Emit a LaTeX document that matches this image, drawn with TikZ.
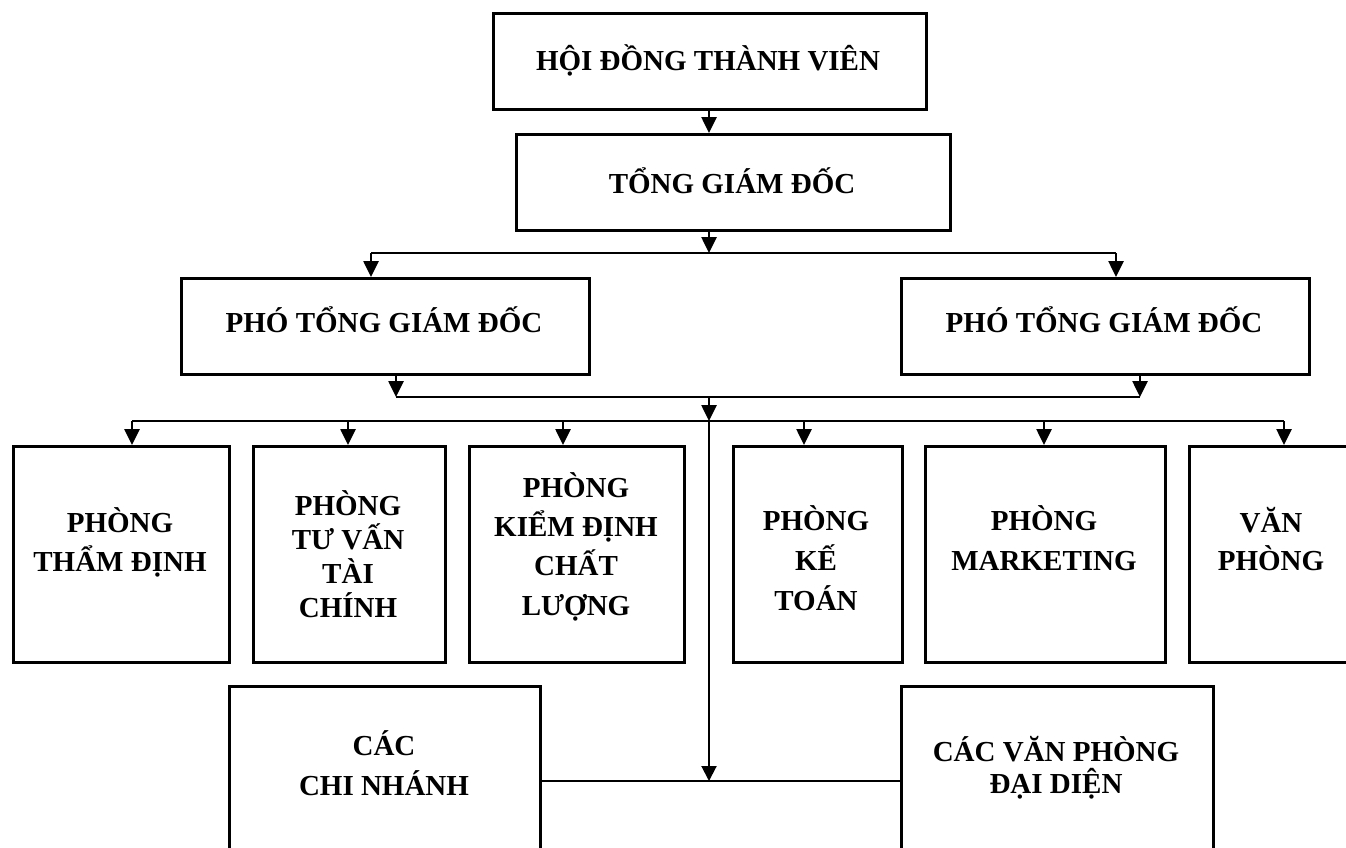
\documentclass[tikz,border=0pt]{standalone}
\usepackage{fontspec}
\setmainfont{Liberation Serif}
\usetikzlibrary{arrows.meta,calc}
\begin{document}
\begin{tikzpicture}[x=1pt,y=-1pt,
 box/.style={draw,line width=2.6pt,inner sep=0pt,anchor=north west},
 lbl/.style={font=\fontsize{29}{39}\selectfont\bfseries,align=center,anchor=base,inner sep=0pt},
 conn/.style={line width=2.6pt},
 thinconn/.style={line width=2pt},
 arr/.style={line width=2.6pt,-{Triangle[length=16pt,width=15pt]}},
 thinarr/.style={line width=2pt,-{Triangle[length=15pt,width=15pt]}},
 ]
\useasboundingbox (0,0) rectangle (1346,847);
\fill[white] (0,0) rectangle (1346,847);
% boxes
\node[box,minimum width=433pt,minimum height=96pt] (hdtv) at (492,12) {};
\node[box,minimum width=434pt,minimum height=96pt] (tgd) at (515,133) {};
\node[box,minimum width=408pt,minimum height=96pt] (pho1) at (180,277) {};
\node[box,minimum width=408pt,minimum height=96pt] (pho2) at (900,277) {};
\node[box,minimum width=216pt,minimum height=216pt] (d1) at (12,445) {};
\node[box,minimum width=192pt,minimum height=216pt] (d2) at (252,445) {};
\node[box,minimum width=215pt,minimum height=216pt] (d3) at (468,445) {};
\node[box,minimum width=169pt,minimum height=216pt] (d4) at (732,445) {};
\node[box,minimum width=240pt,minimum height=216pt] (d5) at (924,445) {};
\node[box,minimum width=166pt,minimum height=216pt] (d6) at (1188,445) {};
\node[box,minimum width=311pt,minimum height=180pt] (cn) at (228,685) {};
\node[box,minimum width=312pt,minimum height=180pt] (vp) at (900,685) {};
% labels (anchor = baseline of last line)
\node[lbl] (hdtvT) at (708,70) {HỘI ĐỒNG THÀNH VIÊN};
\node[lbl] (tgdT) at (732,193) {TỔNG GIÁM ĐỐC};
\node[lbl] (pho1T) at (384,332) {PHÓ TỔNG GIÁM ĐỐC};
\node[lbl] (pho2T) at (1104,332) {PHÓ TỔNG GIÁM ĐỐC};
\node[lbl] (d1T) at (120,571) {PHÒNG\\THẨM ĐỊNH};
\node[lbl,font=\fontsize{29}{33.7}\selectfont\bfseries] (d2T) at (348,617) {PHÒNG\\TƯ VẤN\\TÀI\\CHÍNH};
\node[lbl,font=\fontsize{29}{39.3}\selectfont\bfseries] (d3T) at (576,615) {PHÒNG\\KIỂM ĐỊNH\\CHẤT\\LƯỢNG};
\node[lbl,font=\fontsize{29}{40}\selectfont\bfseries] (d4T) at (816,610) {PHÒNG\\KẾ\\TOÁN};
\node[lbl,font=\fontsize{29}{40}\selectfont\bfseries] (d5T) at (1044,570) {PHÒNG\\MARKETING};
\node[lbl,font=\fontsize{29}{38}\selectfont\bfseries] (d6T) at (1271,570) {VĂN\\PHÒNG};
\node[lbl,font=\fontsize{29}{40}\selectfont\bfseries] (cnT) at (384,795) {CÁC\\CHI NHÁNH};
\node[lbl,font=\fontsize{29}{31.7}\selectfont\bfseries] (vpT) at (1056,793) {CÁC VĂN PHÒNG\\ĐẠI DIỆN};
% bus coordinates
\coordinate (bus1M) at (709,253);
\coordinate (bus1L) at (371,253);
\coordinate (bus1R) at (1116,253);
\coordinate (bus2L) at (396,397);
\coordinate (bus2R) at (1140,397);
\coordinate (bus2M) at (709,397);
\coordinate (bus3M) at (709,421);
\coordinate (bus3L) at (132,421);
\coordinate (bus3R) at (1284,421);
\coordinate (bus4M) at (709,781);
% connectors
\draw[arr] (bus1M |- hdtv.south) -- (bus1M |- tgd.north);
\draw[arr] (bus1M |- tgd.south) -- (bus1M);
\draw[conn] (bus1L) -- (bus1R);
\draw[arr] (bus1L) -- (bus1L |- pho1.north);
\draw[arr] (bus1R) -- (bus1R |- pho2.north);
\draw[arr] (bus2L |- pho1.south) -- (bus2L);
\draw[arr] (bus2R |- pho2.south) -- (bus2R);
\draw[conn] (bus2L) -- (bus2R);
\draw[arr] (bus2M) -- (bus3M);
\draw[conn] (bus3L) -- (bus3R);
\foreach \n/\xx in {d1/132,d2/348,d3/563,d4/804,d5/1044,d6/1284}
  \draw[arr] (\xx,421) -- (\xx,0 |- \n.north);
\draw[thinarr] (bus3M) -- (bus4M);
\draw[thinconn] (cn.east |- bus4M) -- (vp.west |- bus4M);
\end{tikzpicture}
\end{document}
